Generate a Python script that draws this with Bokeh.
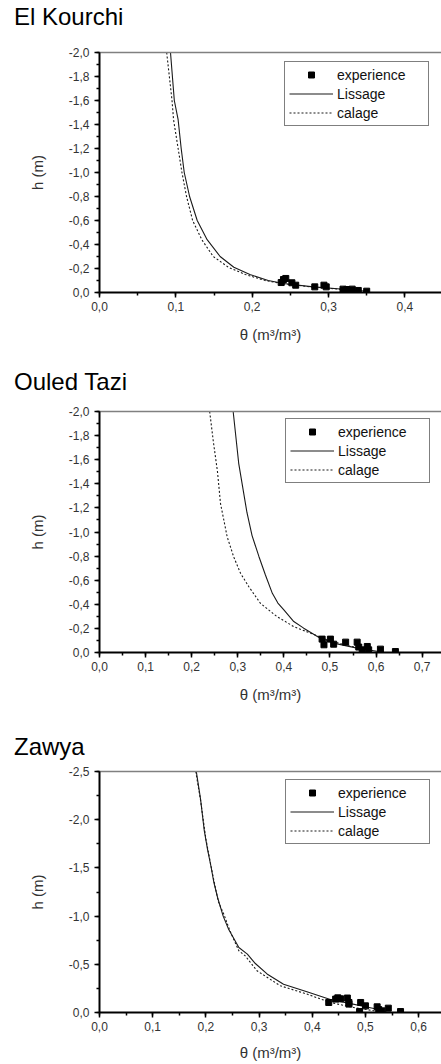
from bokeh.plotting import figure
from bokeh.models import (Range1d, LinearAxis, SingleIntervalTicker, FixedTicker,
                          CustomJSTickFormatter, Legend, LegendItem, Div)
from bokeh.layouts import column
from bokeh.embed import file_html
from bokeh.resources import INLINE

FONT = "Liberation Sans"

# ---------------- data ----------------
# El Kourchi
ek_exp_theta = [0.238, 0.241, 0.244, 0.252, 0.257, 0.282, 0.294, 0.297, 0.319, 0.324, 0.331, 0.339, 0.350]
ek_exp_h = [-0.083, -0.108, -0.117, -0.081, -0.061, -0.047, -0.061, -0.047, -0.028, -0.025, -0.028, -0.017, -0.011]
ek_lis_theta = [0.093, 0.098, 0.103, 0.107, 0.111, 0.118, 0.128, 0.141, 0.158, 0.176, 0.197, 0.221, 0.241, 0.280, 0.324, 0.350]
ek_lis_h = [-2.0, -1.6, -1.44, -1.2, -1.0, -0.8, -0.6, -0.44, -0.30, -0.21, -0.15, -0.10, -0.075, -0.047, -0.025, -0.011]
ek_cal_theta = [0.088, 0.095, 0.097, 0.108, 0.114, 0.122, 0.134, 0.149, 0.169, 0.191, 0.217, 0.241, 0.280, 0.324, 0.350]
ek_cal_h = [-2.0, -1.6, -1.44, -1.0, -0.8, -0.6, -0.44, -0.30, -0.21, -0.15, -0.10, -0.072, -0.045, -0.023, -0.010]

# Ouled Tazi
ot_exp_theta = [0.483, 0.487, 0.501, 0.508, 0.534, 0.559, 0.5625, 0.570, 0.581, 0.584, 0.6095, 0.642]
ot_exp_h = [-0.111, -0.064, -0.111, -0.069, -0.086, -0.086, -0.045, -0.022, -0.050, -0.022, -0.028, -0.008]
ot_lis_theta = [0.290, 0.302, 0.320, 0.331, 0.346, 0.360, 0.375, 0.387, 0.400, 0.4215, 0.443, 0.479, 0.508, 0.559, 0.602]
ot_lis_h = [-2.0, -1.57, -1.16, -0.97, -0.795, -0.643, -0.491, -0.41, -0.353, -0.257, -0.202, -0.119, -0.078, -0.036, -0.010]
ot_cal_theta = [0.239, 0.247, 0.256, 0.2625, 0.277, 0.291, 0.306, 0.324, 0.349, 0.385, 0.4215, 0.458, 0.494, 0.537, 0.581]
ot_cal_h = [-2.0, -1.75, -1.5, -1.237, -0.96, -0.795, -0.657, -0.546, -0.409, -0.298, -0.215, -0.160, -0.105, -0.058, -0.022]

# Zawya
za_exp_theta = [0.431, 0.444, 0.448, 0.453, 0.466, 0.469, 0.469, 0.491, 0.500, 0.489, 0.522, 0.525, 0.531, 0.543, 0.566]
za_exp_h = [-0.104, -0.139, -0.152, -0.142, -0.150, -0.104, -0.087, -0.104, -0.069, -0.010, -0.059, -0.030, -0.017, -0.045, -0.010]
za_lis_theta = [0.182, 0.190, 0.197, 0.203, 0.210, 0.215, 0.222, 0.2325, 0.243, 0.262, 0.278, 0.293, 0.315, 0.346, 0.390, 0.434, 0.470, 0.500, 0.534]
za_lis_h = [-2.5, -2.214, -1.886, -1.695, -1.504, -1.349, -1.193, -1.0, -0.86, -0.674, -0.606, -0.508, -0.40, -0.294, -0.215, -0.135, -0.095, -0.06, -0.02]
za_cal_theta = [0.181, 0.190, 0.200, 0.212, 0.2234, 0.2337, 0.245, 0.262, 0.274, 0.296, 0.340, 0.390, 0.434, 0.478, 0.516, 0.540]
za_cal_h = [-2.5, -2.2, -1.8, -1.45, -1.15, -1.02, -0.85, -0.64, -0.588, -0.433, -0.277, -0.191, -0.104, -0.052, -0.018, -0.008]

titles = ["El Kourchi", "Ouled Tazi", "Zawya"]
x_label = "\u03b8 (m\u00b3/m\u00b3)"
y_label = "h (m)"
legend_labels = ["experience", "Lissage", "calage"]

FMT = "const s = tick.toFixed(1).replace('.', ','); return (s == '-0,0') ? '0,0' : s;"


def make_title(text, height, pad_top):
    html = ('<div style="padding-top:%dpx;padding-left:14px;font-family:\'%s\';'
            'font-size:24px;line-height:24px;color:#000000;white-space:nowrap;">%s</div>'
            % (pad_top, FONT, text))
    return Div(text=html, width=441, height=height, margin=0)


def make_panel(exp_t, exp_h, lis_t, lis_h, cal_t, cal_h, x_max, y_min, y_major,
               border_top, frame_h, border_bottom, legend_xy, xlabel_standoff):
    p = figure(width=441, height=border_top + frame_h + border_bottom,
               x_range=Range1d(0, x_max), y_range=Range1d(0, y_min),
               output_backend="svg", toolbar_location=None,
               min_border_left=99, min_border_right=0,
               min_border_top=border_top, min_border_bottom=border_bottom,
               x_axis_label=x_label, y_axis_label=y_label)
    p.outline_line_color = None
    p.xgrid.grid_line_color = None
    p.ygrid.grid_line_color = None
    p.background_fill_color = "white"

    p.xaxis.ticker = SingleIntervalTicker(interval=0.1, num_minor_ticks=2)
    p.yaxis.ticker = SingleIntervalTicker(interval=y_major, num_minor_ticks=2)
    for ax in (p.xaxis, p.yaxis):
        ax.formatter = CustomJSTickFormatter(code=FMT)
        ax.axis_line_width = 2
        ax.axis_line_color = "#000000"
        ax.major_tick_line_width = 1.5
        ax.minor_tick_line_width = 1.5
        ax.major_tick_line_color = "#000000"
        ax.minor_tick_line_color = "#000000"
        ax.major_tick_in = 0
        ax.minor_tick_in = 0
        ax.major_tick_out = 5
        ax.minor_tick_out = 3
        ax.major_label_text_font = FONT
        ax.major_label_text_font_size = "12px"
        ax.major_label_text_color = "#333333"
        ax.axis_label_text_font = FONT
        ax.axis_label_text_font_size = "15px"
        ax.axis_label_text_font_style = "normal"
        ax.axis_label_text_color = "#333333"
    p.xaxis.major_label_standoff = 4
    p.yaxis.major_label_standoff = 5
    p.xaxis.axis_label_standoff = xlabel_standoff
    p.yaxis.axis_label_standoff = 20

    top = LinearAxis(ticker=FixedTicker(ticks=[]), axis_line_color="#808080",
                     axis_line_width=1.5, major_tick_line_color=None,
                     minor_tick_line_color=None, major_tick_out=0, minor_tick_out=0,
                     major_label_standoff=0, major_label_text_font_size="0px")
    p.add_layout(top, "above")

    r_lis = p.line(lis_t, lis_h, line_color="#1a1a1a", line_width=1.1)
    r_cal = p.line(cal_t, cal_h, line_color="#1a1a1a", line_width=1.1, line_dash="2 2")
    r_exp = p.scatter(exp_t, exp_h, marker="square", size=6,
                      fill_color="#000000", line_color="#000000")

    legend = Legend(items=[LegendItem(label=legend_labels[0], renderers=[r_exp]),
                           LegendItem(label=legend_labels[1], renderers=[r_lis]),
                           LegendItem(label=legend_labels[2], renderers=[r_cal])],
                    location=legend_xy, orientation="vertical",
                    border_line_color="#000000", border_line_width=1.5,
                    background_fill_color="white", background_fill_alpha=1.0,
                    label_text_font=FONT, label_text_font_size="14px",
                    label_text_color="#111111",
                    glyph_width=44, glyph_height=15, label_height=17, label_width=87,
                    label_standoff=4, spacing=2, padding=4, margin=0)
    p.add_layout(legend)
    return p


t1 = make_title(titles[0], 42, 5)
p1 = make_panel(ek_exp_theta, ek_exp_h, ek_lis_theta, ek_lis_h, ek_cal_theta, ek_cal_h,
                0.448, -2.0, 0.2, 10, 240, 60, (185, 166), 12)
t2 = make_title(titles[1], 49, 18)
p2 = make_panel(ot_exp_theta, ot_exp_h, ot_lis_theta, ot_lis_h, ot_cal_theta, ot_cal_h,
                0.742, -2.0, 0.2, 10, 241, 60, (186, 169), 12)
t3 = make_title(titles[2], 49, 23)
p3 = make_panel(za_exp_theta, za_exp_h, za_lis_theta, za_lis_h, za_cal_theta, za_cal_h,
                0.643, -2.5, 0.5, 10, 241, 52, (186, 168), 10)

layout = column(t1, p1, t2, p2, t3, p3, spacing=0)
open("out.html", "w").write(file_html(layout, INLINE))
